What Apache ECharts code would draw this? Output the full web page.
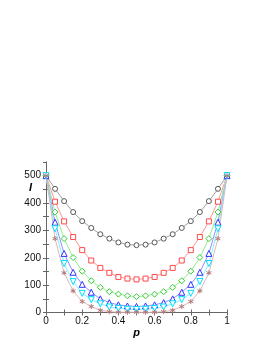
<!DOCTYPE html>
<html>
<head>
<meta charset="utf-8">
<script src="https://cdn.jsdelivr.net/npm/echarts@6/dist/echarts.min.js"></script>
<style>html,body{margin:0;padding:0;background:#fff;}#c{width:273px;height:353px;}</style>
</head>
<body>
<div id="c"></div>
<script>
const pValues = [0,0.05,0.1,0.15,0.2,0.25,0.3,0.35,0.4,0.45,0.5,0.55,0.6,0.65,0.7,0.75,0.8,0.85,0.9,0.95,1];
const s1 = [500,452,407,367,334,309,286,270,256,248,246,248,256,270,286,309,334,367,407,452,500];
const s2 = [500,405,333,276,228,190,163,145,130,124,121,124,130,145,163,190,228,276,333,405,500];
const s3 = [500,367,270,201,151,116,92,76,67,61,58,61,67,76,92,116,151,201,270,367,500];
const s4 = [500,330,216,147,103,74,50,36,28,24,22,24,28,36,50,74,103,147,216,330,500];
const s5 = [500,306,179,113,70,47,32,20,15,12,11,12,15,20,32,47,70,113,179,306,500];
const s6 = [500,270,145,79,40,22,8,3,1,1,1,1,1,3,8,22,40,79,145,270,500];
const xTicks = ['0','0.2','0.4','0.6','0.8','1'];
const yTicks = [0,100,200,300,400,500];

const pair = arr => pValues.map((p,i)=>[p,arr[i]]);
const star = 'path://M0,-1L0,1M-0.87,-0.5L0.87,0.5M-0.87,0.5L0.87,-0.5';
const defs = [
  {d:s1, sym:'circle', size:5, mc:'#555555', lc:'#a0a0a0'},
  {d:s2, sym:'rect', size:5, mc:'#ff4a4a', lc:'#ff9898'},
  {d:s3, sym:'diamond', size:6, mc:'#33cc33', lc:'#90ee90'},
  {d:s4, sym:'triangle', size:6, mc:'#3333ff', lc:'#9090ff'},
  {d:s5, sym:'triangle', size:6, mc:'#00ddff', lc:'#80eeff', rot:180},
  {d:s6, sym:star, size:5, mc:'#b07878', lc:'#dbb8b8'}
];
const font = 'Liberation Sans, Arial, sans-serif';
function axisBase(extra){
  return Object.assign({
    type:'value', min:0,
    axisLine:{show:true, lineStyle:{color:'#666', width:1}},
    axisTick:{show:true, inside:true, length:3, lineStyle:{color:'#666'}},
    minorTick:{show:false},
    splitLine:{show:false}
  }, extra);
}
const fmtX = v => { const s = String(Math.round(v*10)/10); return xTicks.includes(s) ? s : ''; };
const fmtY = v => yTicks.includes(v) ? String(v) : '';
const chart = echarts.init(document.getElementById('c'));
chart.setOption({
  animation:false,
  grid:{left:46, right:46, top:162, bottom:40.5, containLabel:false},
  xAxis:[
    axisBase({max:1, interval:0.1, position:'bottom',
      name:'p', nameLocation:'middle', nameGap:11,
      nameTextStyle:{fontFamily:font, fontStyle:'italic', fontWeight:'bold', fontSize:11, color:'#000'},
      axisLabel:{fontFamily:font, fontSize:10, color:'#111', margin:4, formatter:fmtX}}),
    axisBase({max:1, interval:0.1, position:'top', axisLabel:{show:false}})
  ],
  yAxis:[
    axisBase({max:550, interval:50, position:'left',
      axisLabel:{fontFamily:font, fontSize:10, color:'#111', margin:5, showMaxLabel:false, formatter:fmtY}}),
    axisBase({max:550, interval:50, position:'right', axisLabel:{show:false}})
  ],
  graphic:[{type:'text', left:29, top:182,
    style:{text:'I', font:'italic bold 11px Liberation Sans, Arial, sans-serif', fill:'#000'}}],
  series: defs.map(s=>({
    type:'line', data:pair(s.d), clip:false,
    symbol:s.sym, symbolSize:s.size, symbolRotate:s.rot||0, showAllSymbol:true,
    lineStyle:{color:s.lc, width:1},
    itemStyle:{color:s.sym===star?s.mc:'#ffffff', borderColor:s.mc, borderWidth:1},
    emphasis:{disabled:true}
  }))
});
</script>
</body>
</html>
